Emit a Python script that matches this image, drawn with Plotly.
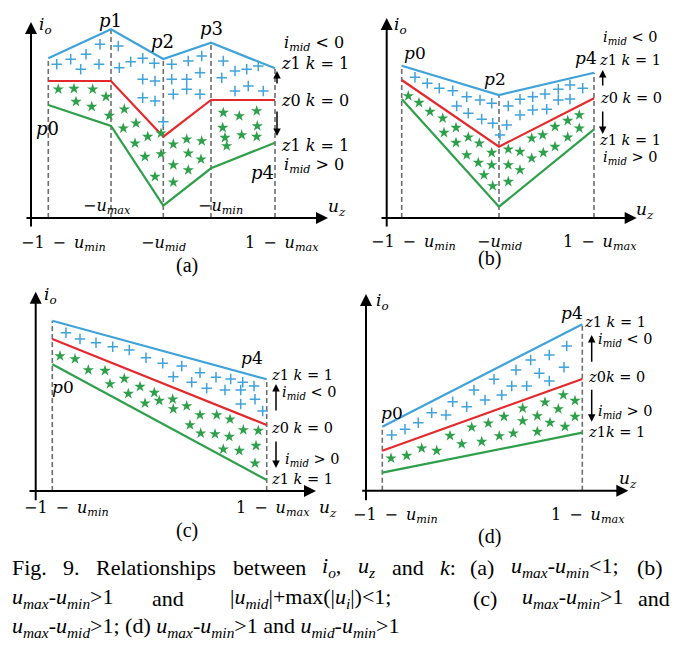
import plotly.graph_objects as go

W, H = 685, 645
FONT = "Liberation Serif"
MFONT = "DejaVu Serif"

# ---------------- data (panel-local units) ----------------
# (a)
a_x = [17.3, 80, 132.3, 180, 244]
a_blue = [159.7, 188.7, 159, 175.3, 149.7]
a_red = [137, 137, 81.3, 118, 118]
a_green = [113, 92, 12.3, 49.7, 75.3]
a_plus_u = [25.7, 39.7, 55, 69, 49.7, 68, 87.3, 88.3, 99.7, 111.7, 123.3, 111.7, 124, 111.7, 124,
            140.7, 157.3, 170.7, 140.7, 155.7, 169, 142.3, 155.7, 169, 132.3, 192.3, 204, 215.7,
            227.3, 190.7, 204, 217.3, 232.3]
a_plus_v = [153.7, 158.7, 163.7, 173.7, 148.7, 153.7, 172, 150.3, 156.3, 159.7, 154.7, 138.7, 137,
            120.3, 117, 153.7, 157, 162, 138.7, 138.7, 145.3, 123.7, 128.7, 123.7, 96.3, 157, 147,
            148.7, 152, 140.3, 127, 132, 127]
a_star_u = [27.3, 43, 61.7, 75, 45, 60.7, 78.3, 93.3, 92.3, 105, 104, 116.7, 130, 114, 130, 124,
            142.3, 155.7, 170.7, 142.3, 157.3, 170, 142.3, 157.3, 192.3, 208.3, 225.7, 191.7,
            226.3, 194, 210.7, 225.7, 195.7]
a_star_v = [128.7, 129.3, 128.7, 121.3, 116.3, 111.3, 102.3, 108.7, 89.7, 94.7, 74.7, 81.3, 84.7,
            61.3, 64, 41.3, 73.7, 78.7, 77, 53, 64.7, 58.7, 35.7, 48, 105.3, 102, 107, 90.3, 92,
            80.3, 83, 81.3, 72]

# (b)
b_x = [15, 112.3, 207.3]
b_blue = [152.3, 123, 145.3]
b_red = [138, 71.3, 119.7]
b_green = [119, 11.3, 88.7]
b_plus_u = [28.3, 40.6, 52.6, 66, 80, 93.3, 105, 70, 81.6, 95, 106, 113.3, 120, 121.6, 133.3, 146,
            158.3, 171.6, 183.3, 196, 133.3, 146, 160, 171.6, 183.3]
b_plus_v = [140.7, 134.7, 129.7, 127.3, 121.3, 118, 114.7, 112, 104.7, 98.7, 94.7, 83, 93, 112,
            118.7, 121.3, 124, 128.7, 133, 129.7, 103, 108, 108.7, 118, 119]
b_star_u = [21.6, 32.3, 43.3, 56, 69.3, 57.3, 69.3, 81.6, 92.6, 105, 80, 91.6, 105, 97.3, 106,
            121.6, 133.3, 121.6, 133.3, 121.6, 145, 156, 168.3, 181, 192.6, 145, 156.6, 168.3,
            181, 192.6]
b_star_v = [122, 115.3, 106.3, 99.7, 90.3, 85.3, 75.3, 80.7, 74.7, 65.3, 63, 55.3, 53, 43, 32,
            68.7, 66.3, 53, 48, 36.3, 79.7, 83, 91.3, 97.3, 103, 59.7, 65.3, 71.3, 80.7, 89.7]

# (c)
c_x = [16.6, 231]
c_blue = [170.3, 111.7]
c_red = [152, 66]
c_green = [126.7, 11]
c_plus_u = [30.3, 44.3, 60.3, 77, 93.6, 110.3, 127, 146, 137.6, 164.3, 180.3, 195, 207, 156, 171,
            189.3, 205, 218.3, 219.3, 205, 227]
c_plus_v = [158.3, 152, 148.3, 144.3, 141, 133.3, 127.7, 125, 114.3, 118.3, 113.7, 112, 108.7,
            108.7, 102.7, 101, 101, 105, 91.7, 87, 80]
c_star_u = [24.3, 39.3, 52.6, 69.3, 88.6, 74.3, 104.3, 118.6, 92.6, 109.3, 137, 123.6, 151, 137.6,
            164.3, 181, 194.3, 154.3, 165, 179.3, 193.6, 207.6, 222.6, 187.6, 203.6, 220.3, 219.3]
c_star_v = [135, 132, 121, 120.3, 112.3, 107, 104.3, 98.3, 97.3, 87.7, 91.7, 90.3, 85, 82, 76, 76,
            71.7, 66, 57.7, 57, 54.3, 61, 60.3, 41.7, 40.3, 45.3, 27.7]

# (d)
d_x = [16.3, 216.3]
d_blue = [64, 166.4]
d_red = [40, 111.7]
d_green = [18, 58]
d_plus_u = [25.7, 39, 52.3, 65.7, 80, 86.7, 100.7, 108, 119, 128, 135.7, 145.7, 150, 160.7, 164.7,
            173.3, 183.3, 183.3, 198, 200.7]
d_plus_v = [55.7, 61.4, 68, 78, 75.7, 89, 84, 100.7, 90.7, 111.4, 95.7, 104.7, 120.7, 104.7, 130.7,
            117.4, 135.7, 109.7, 123.4, 144.7]
d_star_u = [25, 40.7, 55.7, 70.7, 84, 95.7, 105.7, 115.7, 122.3, 133.3, 138, 147.3, 156.7, 156.7,
            171.3, 171.3, 179, 184, 192.3, 197.3, 199, 209, 209]
d_star_v = [32.4, 35, 42.4, 40, 55, 46.7, 63.4, 49, 67.4, 54.7, 74, 57.4, 82.4, 69.7, 74.7, 59, 88.4,
            68, 81.7, 95.7, 64, 90, 74]

# ---------------- style ----------------
BLUE = "#3FA3DA"
RED = "#E5282C"
GREEN = "#2E9F4A"
GREY = "#6E6E6E"

# panel boxes (px) and axis origins (px)
panels = {
    "a": dict(box=(0, 0, 342, 280), org=(31, 218), ax="x", ay="y"),
    "b": dict(box=(342, 0, 685, 280), org=(386.7, 218), ax="x2", ay="y2"),
    "c": dict(box=(0, 280, 342, 552), org=(35.7, 491), ax="x3", ay="y3"),
    "d": dict(box=(342, 280, 685, 552), org=(366, 490.7), ax="x4", ay="y4"),
}

fig = go.Figure()
annotations = []
SP = "\u2002"  # en space (math spacing)
MINUS = "\u2212"


def I(s):
    return f"<i>{s}</i>"


def usub(s):
    return f"<i>u<sub>{s}</sub></i>"


IO = "<i>i<sub>o</sub></i>"
UZ = "<i>u<sub>z</sub></i>"
IMID = "<i>i<sub>mid</sub></i>"


def add_panel(key, xs, blue, red, green, pu, pv, su, sv):
    p = panels[key]
    xa, ya = p["ax"], p["ay"]
    dx, dy = [], []
    for x, b in zip(xs, blue):
        dx += [x, x, None]
        dy += [0, b, None]
    fig.add_trace(go.Scatter(x=dx, y=dy, mode="lines", xaxis=xa, yaxis=ya,
                             line=dict(color=GREY, width=1.6, dash="5px,3px"),
                             hoverinfo="skip", showlegend=False))
    for ys, col in ((blue, BLUE), (red, RED), (green, GREEN)):
        fig.add_trace(go.Scatter(x=xs, y=ys, mode="lines", xaxis=xa, yaxis=ya,
                                 line=dict(color=col, width=2.2), showlegend=False))
    fig.add_trace(go.Scatter(x=pu, y=pv, mode="markers", xaxis=xa, yaxis=ya,
                             marker=dict(symbol="cross-thin", size=7.5, color=BLUE,
                                         line=dict(width=1.5, color=BLUE)), showlegend=False))
    fig.add_trace(go.Scatter(x=su, y=sv, mode="markers", xaxis=xa, yaxis=ya,
                             marker=dict(symbol="star", size=8.5, color=GREEN,
                                         line=dict(width=0)), showlegend=False))


def arrow(key, x0, y0, x1, y1, width=2, size=1.2):
    p = panels[key]
    annotations.append(dict(x=x1, y=y1, ax=x0, ay=y0, xref=p["ax"], yref=p["ay"],
                            axref=p["ax"], ayref=p["ay"], text="", showarrow=True,
                            arrowhead=2, arrowsize=size, arrowwidth=width,
                            arrowcolor="black", standoff=0, startstandoff=0))


def text(key, x, y, s, size=17, xanchor="center", family=MFONT):
    p = panels[key]
    annotations.append(dict(x=x, y=y, xref=p["ax"], yref=p["ay"], text=s, showarrow=False,
                            xanchor=xanchor, yanchor="middle", borderpad=0,
                            font=dict(family=family, size=size, color="black")))


add_panel("a", a_x, a_blue, a_red, a_green, a_plus_u, a_plus_v, a_star_u, a_star_v)
add_panel("b", b_x, b_blue, b_red, b_green, b_plus_u, b_plus_v, b_star_u, b_star_v)
add_panel("c", c_x, c_blue, c_red, c_green, c_plus_u, c_plus_v, c_star_u, c_star_v)
add_panel("d", d_x, d_blue, d_red, d_green, d_plus_u, d_plus_v, d_star_u, d_star_v)

# axes arrows
arrow("a", 0, -10, 0, 196); arrow("a", -6, 0, 297, 0)
arrow("b", 0, -10, 0, 200); arrow("b", -6.7, 0, 250, 0)
arrow("c", 0, -10.7, 0, 199.3); arrow("c", -7.7, 0, 280.3, 0)
arrow("d", 0, -11, 0, 196.7); arrow("d", -5.3, 0, 262.3, 0)

# k arrows
arrow("a", 246, 133, 246, 147, 1.5, 1); arrow("a", 246, 108, 246, 82, 1.5, 1)
arrow("b", 216, 131, 216, 148, 1.5, 1); arrow("b", 216, 108, 216, 84, 1.5, 1)
arrow("c", 240.3, 79, 240.3, 107, 1.5, 1); arrow("c", 240.3, 51, 240.3, 23, 1.5, 1)
arrow("d", 225.7, 127.4, 225.7, 155.7, 1.5, 1); arrow("d", 225.7, 102.4, 225.7, 69, 1.5, 1)

TMIN = f"{MINUS}1{SP}{MINUS}{SP}" + usub("min")
TMAX = f"1{SP}{MINUS}{SP}" + usub("max")
TMID = MINUS + usub("mid")
TS = 16
LS = 14.5
LA = 16


def zk(z, k, sep=" "):
    return I("z") + z + sep + I("k") + " = " + k


LT = IMID + " &lt; 0"
GT = IMID + " &gt; 0"

# panel (a) labels
text("a", 14, 193, IO)
text("a", 79, 198, I("p") + "1", 18); text("a", 131, 177, I("p") + "2", 18)
text("a", 180, 190, I("p") + "3", 18); text("a", 16, 90, I("p") + "0", 18)
text("a", 231, 46, I("p") + "4", 18)
text("a", 76, 12, MINUS + usub("max"), TS); text("a", 189, 12, MINUS + usub("min"), TS)
text("a", 306, 11, UZ)
text("a", 32, -25, TMIN, TS); text("a", 132, -25, TMID, TS); text("a", 251, -25, TMAX, TS)
text("a", 156, -47, "(a)", 20, family=FONT)
text("a", 252, 175, LT, LA, "left")
text("a", 249, 155, zk("1", "1"), LA, "left")
text("a", 249, 118, zk("0", "0"), LA, "left")
text("a", 249, 73, zk("1", "1"), LA, "left")
text("a", 252, 53, GT, LA, "left")

# panel (b) labels
text("b", 13.3, 193, IO)
text("b", 28.3, 165, I("p") + "0"); text("b", 108.3, 139, I("p") + "2")
text("b", 199, 160, I("p") + "4")
text("b", 258.3, 8, UZ)
text("b", 26.3, -24, TMIN, TS); text("b", 112.3, -24, TMID, TS); text("b", 213.3, -24, TMAX, TS)
text("b", 102.3, -40, "(b)", 20, family=FONT)
text("b", 215, 179.7, LT, LS, "left")
text("b", 211.3, 158, zk("1", "1"), LS, "left")
text("b", 212.5, 119.7, zk("0", "0"), LS, "left")
text("b", 211.3, 78, zk("1", "1"), LS, "left")
text("b", 215, 59.7, GT, LS, "left")

# panel (c) labels
text("c", 14.3, 196, IO)
text("c", 216, 132.7, I("p") + "4"); text("c", 27.6, 104.3, I("p") + "0")
text("c", 292.3, -17, UZ)
text("c", 31, -17, TMIN, TS); text("c", 237.3, -17, TMAX, TS)
text("c", 151, -39, "(c)", 20, family=FONT)
text("c", 234, 116, zk("1", "1"), LS, "left")
text("c", 245, 97.7, LT, LS, "left")
text("c", 234, 63.3, zk("0", "0"), LS, "left")
text("c", 248, 31, GT, LS, "left")
text("c", 234, 12, zk("1", "1"), LS, "left")

# panel (d) labels
text("d", 16.7, 189, IO)
text("d", 206.3, 177.4, I("p") + "4"); text("d", 25.7, 78, I("p") + "0")
text("d", 262.3, 11.7, UZ)
text("d", 29, -24.3, TMIN, TS); text("d", 222.3, -24.3, TMAX, TS)
text("d", 123.3, -46, "(d)", 20, family=FONT)
text("d", 217.3, 169, zk("1", "1"), LS, "left")
text("d", 230.7, 150.7, LT, LS, "left")
text("d", 220.7, 113.4, zk("0", "0", ""), LS, "left")
text("d", 230.7, 79, GT, LS, "left")
text("d", 220.7, 59, zk("1", "1", ""), LS, "left")

# caption (justified lines placed word by word, last line flowing)
CAP = 22


def cap(xpx, ypx, s):
    annotations.append(dict(x=(xpx - 1) / W, y=1 - ypx / H, xref="paper", yref="paper", text=s,
                            showarrow=False, xanchor="left", yanchor="middle", borderpad=0,
                            font=dict(family=FONT, size=CAP, color="black")))


UMM = usub("max") + "-" + usub("min")
L1, L2, L3 = 567, 598, 627
for xp, s in [(12, "Fig."), (63, "9."), (96, "Relationships"), (233, "between"),
              (322, IO + ","), (358, UZ), (392, "and"), (440, I("k") + ":"), (470, "(a)"),
              (511, UMM + "&lt;1;"), (637, "(b)")]:
    cap(xp, L1, s)
for xp, s in [(12, UMM + "&gt;1"), (152, "and"),
              (230, "|" + usub("mid") + "|+max(|" + usub("i") + "|)&lt;1;"),
              (473, "(c)"), (522, UMM + "&gt;1"), (638, "and")]:
    cap(xp, L2, s)
cap(12, L3, usub("max") + "-" + usub("mid") + "&gt;1; (d) " + UMM + "&gt;1 and "
    + usub("mid") + "-" + usub("min") + "&gt;1")

layout = dict(width=W, height=H, margin=dict(l=0, r=0, t=0, b=0),
              paper_bgcolor="white", plot_bgcolor="white", showlegend=False,
              annotations=annotations)
for k, p in panels.items():
    x0, y0, x1, y1 = p["box"]
    ox, oy = p["org"]
    xn = "xaxis" + p["ax"][1:]
    yn = "yaxis" + p["ay"][1:]
    layout[xn] = dict(domain=[x0 / W, x1 / W], range=[x0 - ox, x1 - ox], visible=False,
                      fixedrange=True, anchor=p["ay"])
    layout[yn] = dict(domain=[1 - y1 / H, 1 - y0 / H], range=[oy - y1, oy - y0],
                      visible=False, fixedrange=True, anchor=p["ax"])
fig.update_layout(**layout)
fig.write_html("out.html", config={"displayModeBar": False},
               post_script="document.body.style.margin='0px';document.body.style.overflow='hidden';")
